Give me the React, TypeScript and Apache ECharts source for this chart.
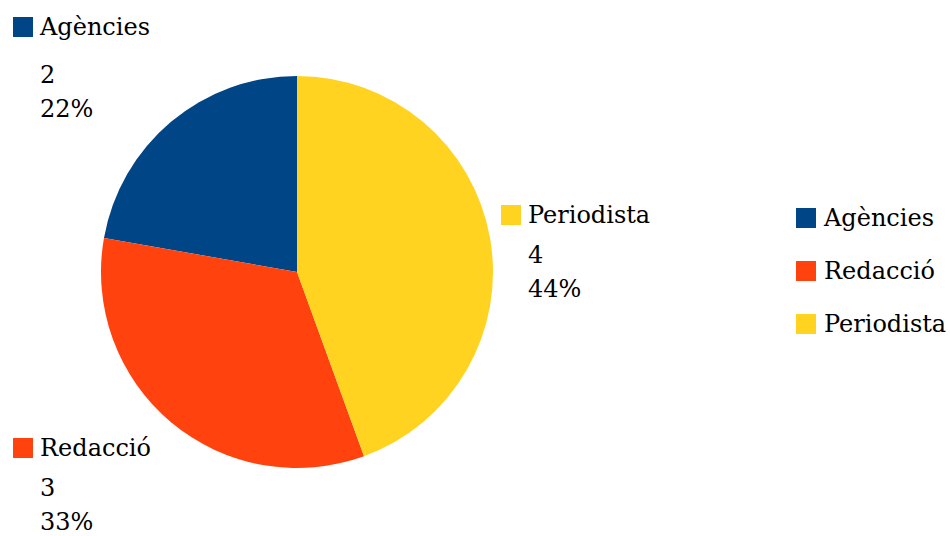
import React, { useEffect, useRef } from "react";
import * as echarts from "echarts";

const categories = ["Agències", "Redacció", "Periodista"];
const values = [2, 3, 4];
const colors = ["#004586", "#ff420e", "#ffd320"];

const FONT = "DejaVu Serif";

export default function App() {
  const ref = useRef<HTMLDivElement>(null);
  useEffect(() => {
    if (!ref.current) return;
    const chart = echarts.init(ref.current, undefined, { renderer: "svg" });
    const total = values.reduce((a, b) => a + b, 0);
    const labelPos: Record<number, [number, number]> = {
      0: [13, -3],
      1: [13, 426],
      2: [501, 193],
    };
    chart.setOption({
      animation: false,
      backgroundColor: "#ffffff",
      color: colors,
      legend: {
        orient: "vertical",
        left: 791,
        top: 201,
        itemWidth: 20,
        itemHeight: 20,
        itemGap: 29,
        icon: "rect",
        data: categories,
        textStyle: {
          fontFamily: FONT,
          fontSize: 24,
          color: "#000",
          lineHeight: 24,
          padding: [0, 0, 0, 3],
        },
      },
      series: [
        {
          type: "pie",
          center: [297, 272],
          radius: 196,
          startAngle: 90,
          clockwise: false,
          avoidLabelOverlap: false,
          emphasis: { disabled: true },
          data: categories.map((name, i) => ({ name, value: values[i] })),
          labelLine: { show: false },
          label: {
            show: true,
            position: "outside",
            fontFamily: FONT,
            color: "#000",
            formatter: (p: any) => {
              const pct = Math.round((p.value / total) * 100);
              const nk = p.dataIndex === 0 ? "na" : "n";
              return `{m${p.dataIndex}|}{${nk}|${p.name}}\n{v|${p.value}}\n{p|${pct}%}`;
            },
            rich: {
              m0: { width: 20, height: 20, backgroundColor: colors[0] },
              m1: { width: 20, height: 20, backgroundColor: colors[1] },
              m2: { width: 20, height: 20, backgroundColor: colors[2] },
              n: { fontFamily: FONT, fontSize: 24, lineHeight: 44, padding: [0, 0, 0, 7], color: "#000" },
              na: { fontFamily: FONT, fontSize: 24, lineHeight: 60, padding: [0, 0, 0, 7], color: "#000" },
              v: { fontFamily: FONT, fontSize: 24, lineHeight: 36, padding: [0, 0, 0, 27], color: "#000" },
              p: { fontFamily: FONT, fontSize: 24, lineHeight: 32, padding: [0, 0, 0, 27], color: "#000" },
            },
          },
          labelLayout: (params: any) => {
            const pos = labelPos[params.dataIndex];
            return { x: pos[0], y: pos[1], align: "left", verticalAlign: "top" };
          },
        },
      ],
    });
    return () => chart.dispose();
  }, []);
  return (
    <div
      ref={ref}
      style={{ position: "absolute", left: 0, top: 0, width: 950, height: 536 }}
    />
  );
}
